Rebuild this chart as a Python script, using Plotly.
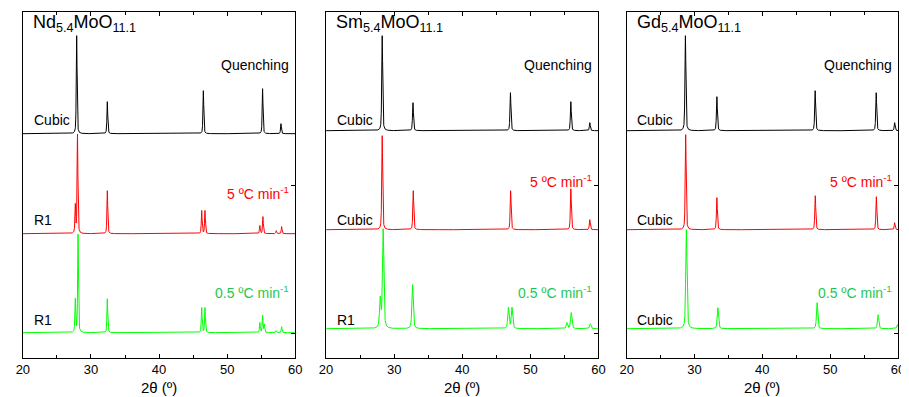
import numpy as np
import plotly.graph_objects as go

# ---------------- data ----------------
x_range = [20, 60]
x_tickvals = [20, 30, 40, 50, 60]
compounds = ["Nd<sub>5.4</sub>MoO<sub>11.1</sub>",
             "Sm<sub>5.4</sub>MoO<sub>11.1</sub>",
             "Gd<sub>5.4</sub>MoO<sub>11.1</sub>"]
series_names = ["Quenching", "5 ºC min<sup>-1</sup>", "0.5 ºC min<sup>-1</sup>"]
phase_labels = [["Cubic", "R1", "R1"],
                ["Cubic", "Cubic", "R1"],
                ["Cubic", "Cubic", "Cubic"]]

# Nd5.4MoO11.1 peaks (2theta, intensity a.u.)
nd_q_pos = [27.9, 32.4, 46.5, 55.2, 57.9]
nd_q_int = [98, 32, 43, 45, 10]
nd_5_pos = [27.7, 28.02, 32.4, 46.26, 46.74, 54.8, 55.25, 57.2, 58.0]
nd_5_int = [28, 99, 43, 23, 23, 8, 17, 3, 7]
nd_05_pos = [27.7, 28.1, 32.4, 46.26, 46.74, 54.8, 55.2, 55.45, 57.2, 58.0]
nd_05_int = [33, 98, 34, 25, 25, 10, 17, 8, 2, 6]

# Sm5.4MoO11.1 peaks
sm_q_pos = [28.24, 32.76, 47.07, 55.94, 58.73]
sm_q_int = [95, 28, 38, 29, 8]
sm_5_pos = [28.24, 32.8, 47.1, 55.94, 58.73]
sm_5_int = [94, 39, 39, 41, 10]
sm_05_pos = [27.95, 28.38, 32.7, 46.78, 47.3, 55.36, 56.0, 58.8]
sm_05_int = [29, 99, 44, 21, 21, 6, 16, 5]

# Gd5.4MoO11.1 peaks
gd_q_pos = [28.66, 33.3, 47.78, 56.78, 59.5]
gd_q_int = [95, 34, 40, 38, 8]
gd_5_pos = [28.7, 33.3, 47.8, 56.8, 59.5]
gd_5_int = [95, 32, 34, 33, 7]
gd_05_pos = [28.8, 33.45, 48.07, 57.06, 59.9]
gd_05_int = [99, 21, 26, 14, 4]

# vertical offsets of the stacked patterns (a.u.)
offsets = [[224, 124, 25], [227, 128, 29], [227, 128, 29]]
# peak widths (FWHM, degrees)
widths = [[0.14, 0.14, 0.14], [0.16, 0.16, 0.24], [0.16, 0.16, 0.22]]

peaks = [[(nd_q_pos, nd_q_int), (nd_5_pos, nd_5_int), (nd_05_pos, nd_05_int)],
         [(sm_q_pos, sm_q_int), (sm_5_pos, sm_5_int), (sm_05_pos, sm_05_int)],
         [(gd_q_pos, gd_q_int), (gd_5_pos, gd_5_int), (gd_05_pos, gd_05_int)]]

line_colors = ["#000000", "#FF0000", "#00FF00"]
text_colors = ["#000000", "#FF0000", "#1EC850"]

# ---------------- figure ----------------
PAGE_OFF = 8                      # default body margin of the html page
W, H = 909 - PAGE_OFF, 397 - PAGE_OFF
x_px = [(16, 292.7), (324, 600.7), (629.3, 905)]
y_top_px, y_bot_px = 12.3, 357.7
y_span = y_bot_px - y_top_px

two_theta = np.arange(20, 60.0001, 0.01)


def profile(x, pos, inten, w, eta=0.5):
    y = np.zeros_like(x)
    hw = w / 2.0
    for p, a in zip(pos, inten):
        d = (x - p) / hw
        y += a * (eta / (1 + d * d) + (1 - eta) * np.exp(-np.log(2) * d * d))
    return y


fig = go.Figure()
font_family = "Liberation Sans, Arial, sans-serif"

for i in range(3):
    xa = "x" if i == 0 else f"x{i+1}"
    ya = "y" if i == 0 else f"y{i+1}"
    for j in range(3):
        pos, inten = peaks[i][j]
        yv = offsets[i][j] + profile(two_theta, pos, inten, widths[i][j])
        fig.add_trace(go.Scatter(x=two_theta, y=yv, mode="lines",
                                 line=dict(color=line_colors[j], width=1),
                                 xaxis=xa, yaxis=ya, hoverinfo="skip"))
    d0 = (x_px[i][0] - PAGE_OFF) / W
    d1 = (x_px[i][1] - PAGE_OFF) / W
    key = "" if i == 0 else str(i + 1)
    fig.layout["xaxis" + key] = dict(
        domain=[d0, d1], range=x_range, tickvals=x_tickvals,
        ticks="inside", ticklen=4, tickwidth=1, tickcolor="black",
        minor=dict(ticks="inside", ticklen=2.5, dtick=5, tick0=20, tickcolor="black"),
        showline=True, linecolor="black", linewidth=1.2, mirror="ticks",
        showgrid=False, zeroline=False, anchor=ya,
        tickfont=dict(size=13, color="black", family=font_family))
    fig.layout["yaxis" + key] = dict(
        domain=[1 - (y_bot_px - PAGE_OFF) / H, 1 - (y_top_px - PAGE_OFF) / H],
        range=[0, y_span],
        side="right", ticks="inside", ticklen=4, tickcolor="black",
        tickvals=[24.7, 172.7], showticklabels=False,
        showline=True, linecolor="black", linewidth=1.2, mirror=True,
        showgrid=False, zeroline=False, anchor=xa)

    # labels
    red_y = 164.7 if i == 0 else 176.7
    fig.add_annotation(x=21.2, y=334, xref=xa, yref=ya, text=compounds[i],
                       showarrow=False, xanchor="left", yanchor="middle",
                       font=dict(size=18, color="black", family=font_family))
    right_y = [292.7, red_y, 65.7]
    left_y = [237.7, 137.7, 37.7]
    for j in range(3):
        fig.add_annotation(x=59.4, y=right_y[j], xref=xa, yref=ya, text=series_names[j],
                           showarrow=False, xanchor="right", yanchor="middle",
                           font=dict(size=14, color=text_colors[j], family=font_family))
        fig.add_annotation(x=21.3, y=left_y[j], xref=xa, yref=ya, text=phase_labels[i][j],
                           showarrow=False, xanchor="left", yanchor="middle",
                           font=dict(size=14, color="black", family=font_family))
    fig.add_annotation(x=(d0 + d1) / 2, y=1 - (387 - PAGE_OFF) / H, xref="paper", yref="paper",
                       text="2θ (º)", showarrow=False, xanchor="center", yanchor="middle",
                       font=dict(size=15, color="black", family=font_family))

fig.update_layout(width=W, height=H, margin=dict(l=0, r=0, t=0, b=0),
                  plot_bgcolor="white", paper_bgcolor="white", showlegend=False,
                  font=dict(family=font_family))
fig.write_html("out.html")
